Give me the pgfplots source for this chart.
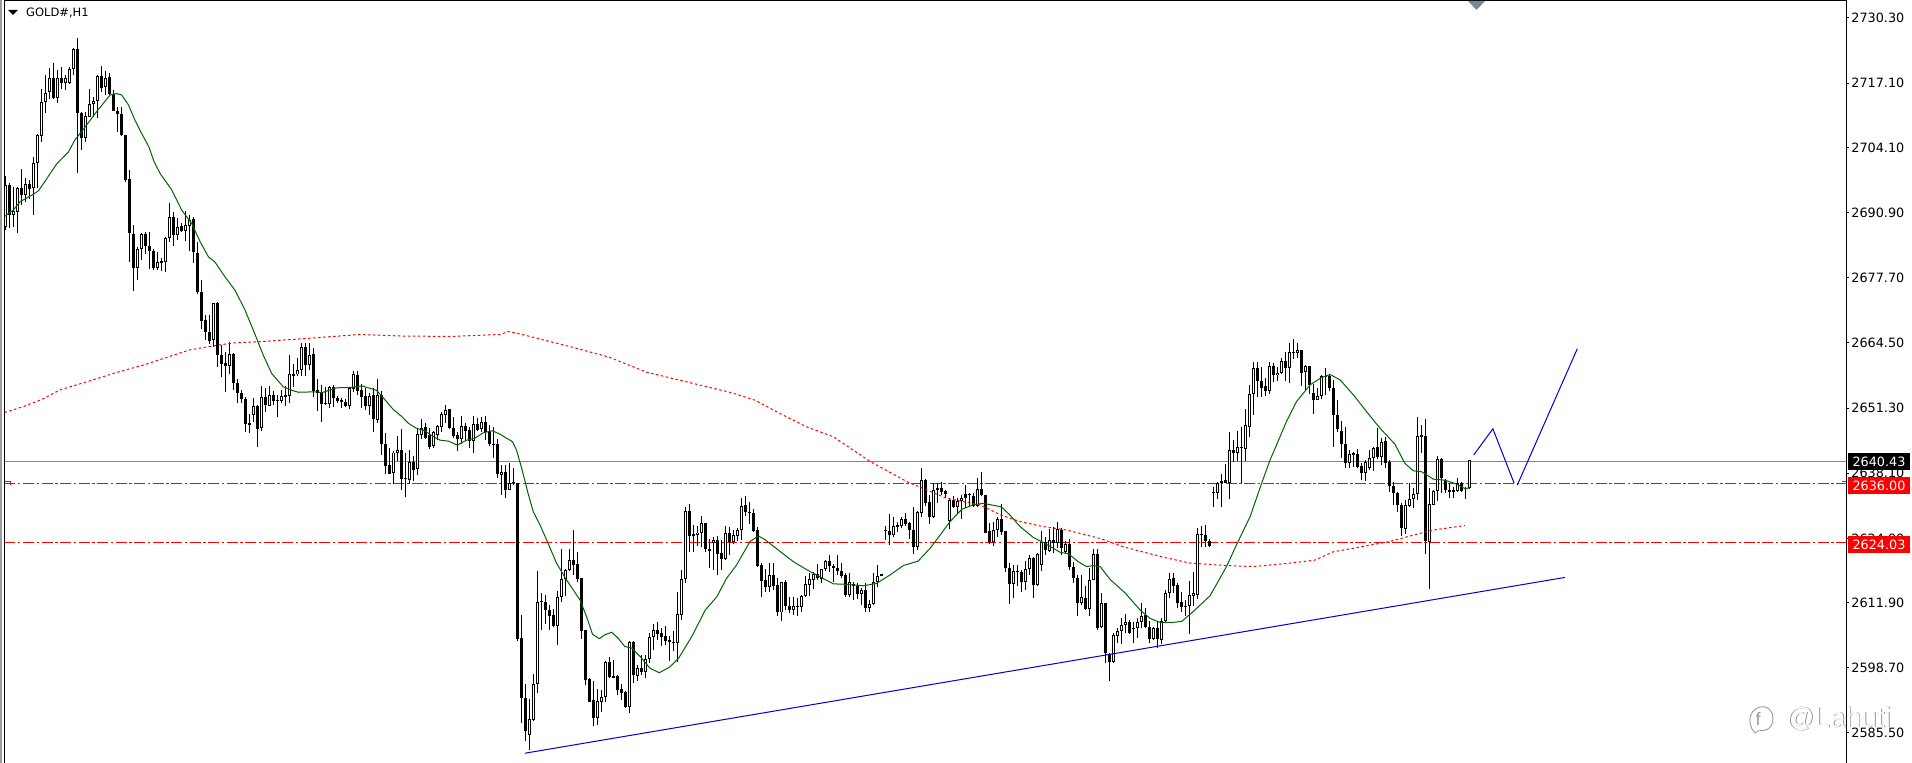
\documentclass[border=0pt]{standalone}
\usepackage{pgfplots}
\usepackage{pgfplotstable}
\usepackage{fontspec}
\setmainfont{DejaVu Sans}
\newfontfamily\wmfont{Liberation Sans}
\pgfplotsset{compat=1.18}
\definecolor{slategray}{RGB}{119,136,153}
\definecolor{magreen}{RGB}{0,100,0}
\definecolor{tlblue}{RGB}{0,0,205}
\pgfplotstableread{
i o h l c
0 2687.9 2698.2 2687.4 2696.5
1 2696.5 2696.8 2687.7 2690.4
2 2690.4 2696.1 2688.0 2691.3
3 2691.1 2696.1 2686.7 2695.9
4 2695.8 2699.8 2692.4 2694.4
5 2694.4 2697.8 2693.1 2696.6
6 2696.7 2697.5 2693.6 2695.7
7 2695.8 2702.2 2690.4 2701.0
8 2701.0 2706.9 2695.8 2706.6
9 2706.4 2716.0 2705.2 2713.2
10 2713.2 2718.7 2711.1 2715.2
11 2715.4 2720.1 2713.9 2718.1
12 2718.1 2721.1 2713.9 2714.1
13 2714.1 2719.8 2713.1 2718.1
14 2718.1 2720.4 2716.0 2717.2
15 2717.2 2718.7 2715.8 2718.1
16 2717.2 2720.4 2716.9 2719.9
17 2719.9 2724.3 2718.7 2724.1
18 2724.1 2726.3 2699.0 2711.0
19 2711.0 2711.3 2703.5 2705.9
20 2705.9 2711.3 2705.2 2710.4
21 2710.3 2716.0 2710.3 2712.8
22 2712.8 2714.2 2710.3 2713.4
23 2713.4 2718.7 2710.0 2718.5
24 2718.5 2720.6 2715.4 2716.2
25 2716.4 2719.6 2714.7 2718.1
26 2718.3 2719.1 2714.7 2714.9
27 2714.9 2715.8 2711.5 2711.5
28 2711.5 2712.3 2707.3 2710.8
29 2710.8 2712.3 2706.3 2706.6
30 2706.7 2706.7 2697.1 2697.5
31 2697.6 2699.6 2680.9 2686.7
32 2686.5 2688.4 2675.1 2679.7
33 2679.7 2683.9 2677.2 2683.6
34 2683.6 2686.8 2681.3 2686.5
35 2686.5 2687.0 2682.6 2684.2
36 2684.2 2687.0 2679.4 2683.1
37 2683.1 2683.6 2679.2 2679.6
38 2679.6 2682.9 2679.2 2680.8
39 2681.1 2681.6 2679.1 2680.6
40 2680.8 2685.9 2678.9 2685.7
41 2685.7 2692.8 2685.0 2689.9
42 2689.9 2691.1 2684.1 2686.3
43 2686.3 2689.7 2685.3 2688.0
44 2688.2 2688.7 2687.0 2687.2
45 2687.2 2691.3 2685.2 2688.3
46 2688.2 2690.4 2683.1 2689.4
47 2689.5 2690.0 2680.7 2682.9
48 2682.8 2685.0 2674.5 2674.9
49 2674.9 2677.2 2667.4 2669.0
50 2669.1 2670.2 2665.1 2666.8
51 2666.8 2670.2 2664.3 2664.8
52 2665.1 2672.6 2663.7 2672.5
53 2672.6 2672.8 2659.7 2662.0
54 2662.0 2664.1 2657.5 2660.2
55 2660.4 2662.7 2654.6 2659.9
56 2659.9 2664.6 2658.3 2662.2
57 2662.2 2662.4 2655.0 2656.3
58 2656.3 2657.1 2652.3 2654.3
59 2654.3 2655.0 2652.3 2653.1
60 2653.1 2653.6 2646.5 2648.0
61 2648.2 2650.1 2646.2 2647.9
62 2649.8 2653.3 2648.5 2651.7
63 2651.8 2651.9 2643.5 2647.1
64 2647.2 2655.8 2646.7 2653.5
65 2653.5 2655.3 2650.6 2651.9
66 2651.8 2655.8 2651.8 2653.9
67 2653.9 2654.8 2651.9 2652.8
68 2652.9 2653.9 2649.5 2652.7
69 2652.8 2655.0 2652.3 2653.7
70 2653.9 2655.8 2651.8 2653.6
71 2653.7 2662.0 2652.3 2658.2
72 2658.2 2660.2 2655.6 2657.8
73 2658.1 2661.4 2657.8 2659.0
74 2659.0 2664.4 2657.7 2663.6
75 2663.6 2664.4 2657.7 2660.0
76 2660.0 2664.4 2659.0 2662.0
77 2662.2 2663.4 2653.6 2654.8
78 2655.0 2657.1 2650.8 2654.4
79 2654.5 2656.0 2648.5 2652.1
80 2652.3 2655.5 2651.9 2652.1
81 2652.1 2655.8 2651.4 2655.5
82 2655.5 2656.0 2651.6 2653.3
83 2653.3 2653.7 2652.3 2652.8
84 2652.9 2653.3 2651.4 2652.5
85 2652.6 2653.1 2651.5 2651.7
86 2651.7 2655.5 2651.1 2655.3
87 2655.2 2658.8 2654.6 2658.1
88 2658.0 2658.8 2653.9 2654.8
89 2655.0 2656.2 2651.4 2653.6
90 2653.7 2655.3 2650.9 2651.8
91 2651.7 2654.3 2649.9 2653.7
92 2653.9 2655.3 2646.5 2649.1
93 2648.9 2657.2 2648.3 2653.9
94 2653.9 2654.8 2641.7 2644.1
95 2644.1 2646.2 2637.9 2639.6
96 2639.8 2643.3 2637.9 2638.0
97 2638.2 2642.7 2636.0 2642.3
98 2642.3 2645.6 2640.6 2642.9
99 2642.9 2647.0 2634.7 2636.9
100 2637.1 2642.3 2633.2 2636.9
101 2636.7 2642.9 2636.0 2640.4
102 2640.4 2641.6 2636.6 2638.8
103 2638.9 2647.0 2637.7 2646.0
104 2645.8 2649.0 2645.0 2647.2
105 2647.4 2648.2 2645.0 2645.2
106 2645.8 2647.2 2643.0 2643.5
107 2643.6 2646.7 2643.3 2646.5
108 2645.8 2647.9 2644.8 2647.7
109 2647.5 2650.6 2646.5 2650.1
110 2649.9 2651.9 2648.2 2651.0
111 2651.1 2651.1 2647.0 2647.3
112 2647.3 2649.5 2645.2 2645.6
113 2645.8 2646.5 2642.7 2645.0
114 2645.0 2649.7 2644.1 2647.7
115 2647.7 2648.2 2644.7 2646.6
116 2646.8 2647.4 2643.3 2644.7
117 2644.6 2649.7 2642.3 2648.0
118 2648.1 2649.2 2646.7 2646.8
119 2647.0 2649.4 2646.5 2648.5
120 2648.4 2649.7 2644.8 2646.5
121 2646.7 2647.9 2643.6 2644.0
122 2644.1 2647.5 2641.1 2643.8
123 2644.0 2645.0 2637.1 2637.9
124 2637.7 2639.8 2633.7 2638.4
125 2638.3 2639.8 2633.0 2634.7
126 2634.7 2640.1 2634.7 2636.1
127 2636.1 2639.1 2635.7 2636.4
128 2636.1 2636.1 2604.2 2604.5
129 2604.7 2609.4 2587.5 2592.5
130 2592.5 2595.5 2583.8 2585.8
131 2585.1 2592.4 2582.1 2588.3
132 2588.1 2597.4 2588.0 2595.4
133 2595.4 2618.3 2593.5 2612.0
134 2612.2 2613.9 2606.4 2612.0
135 2612.1 2613.4 2607.6 2610.4
136 2610.5 2611.5 2606.4 2609.2
137 2609.4 2610.7 2607.0 2607.2
138 2607.2 2614.2 2603.4 2613.0
139 2613.1 2622.8 2612.0 2616.6
140 2616.6 2618.8 2613.3 2618.6
141 2618.5 2622.8 2618.4 2620.5
142 2620.5 2626.6 2617.5 2619.5
143 2619.7 2622.1 2616.1 2616.7
144 2616.8 2616.8 2604.5 2606.2
145 2606.4 2606.4 2595.2 2596.2
146 2596.4 2596.7 2591.8 2591.8
147 2592.2 2596.0 2587.0 2588.6
148 2588.6 2594.5 2587.1 2591.9
149 2591.8 2594.3 2589.8 2592.7
150 2592.7 2600.1 2591.8 2599.9
151 2599.9 2600.9 2596.7 2596.9
152 2597.0 2600.3 2596.6 2596.7
153 2597.0 2597.2 2593.2 2594.2
154 2594.5 2595.5 2592.2 2593.5
155 2593.7 2593.9 2590.5 2590.8
156 2590.8 2604.2 2589.6 2604.0
157 2604.0 2604.2 2595.7 2597.2
158 2597.0 2599.3 2596.0 2598.6
159 2598.6 2601.3 2597.2 2597.9
160 2597.9 2601.3 2596.6 2600.4
161 2600.4 2605.7 2599.7 2604.9
162 2604.9 2607.6 2602.4 2606.4
163 2606.4 2608.0 2604.3 2605.5
164 2605.7 2606.8 2603.1 2605.0
165 2605.1 2607.2 2603.3 2604.2
166 2604.3 2605.1 2600.1 2603.9
167 2603.9 2606.2 2602.2 2603.7
168 2603.7 2614.1 2599.9 2609.5
169 2609.4 2618.5 2608.4 2616.6
170 2616.6 2631.2 2615.9 2630.4
171 2630.4 2631.9 2622.2 2625.3
172 2625.3 2627.6 2622.1 2625.7
173 2625.6 2627.4 2623.4 2626.1
174 2626.1 2629.5 2623.2 2628.0
175 2628.0 2628.1 2622.2 2622.8
176 2622.8 2624.7 2619.0 2622.4
177 2623.9 2625.1 2618.5 2624.5
178 2624.6 2625.3 2617.4 2621.7
179 2621.9 2624.6 2618.6 2620.7
180 2620.8 2627.5 2620.5 2625.9
181 2625.9 2627.3 2621.5 2624.1
182 2624.1 2626.6 2623.8 2625.6
183 2625.4 2627.1 2624.3 2626.7
184 2626.7 2633.1 2624.6 2631.5
185 2631.6 2633.5 2629.5 2630.3
186 2630.3 2632.3 2627.8 2630.0
187 2630.0 2630.8 2626.3 2626.5
188 2626.6 2627.3 2619.2 2619.4
189 2619.5 2620.0 2613.1 2616.3
190 2616.5 2618.8 2614.1 2615.1
191 2615.1 2620.0 2614.1 2617.5
192 2617.5 2620.0 2614.5 2615.3
193 2615.5 2616.8 2609.2 2609.9
194 2609.9 2616.1 2608.2 2616.0
195 2616.0 2616.5 2610.4 2611.2
196 2611.2 2613.0 2609.7 2610.5
197 2610.5 2613.0 2609.4 2611.2
198 2611.3 2612.8 2609.1 2611.1
199 2611.1 2613.5 2610.1 2613.2
200 2613.2 2617.2 2613.1 2615.6
201 2615.5 2617.8 2613.3 2616.6
202 2616.5 2618.0 2614.6 2617.7
203 2617.7 2619.8 2616.5 2616.8
204 2616.7 2618.8 2615.8 2618.8
205 2618.8 2620.5 2618.4 2620.3
206 2620.3 2621.5 2618.2 2619.4
207 2619.4 2619.8 2616.1 2619.0
208 2619.0 2621.5 2617.5 2618.3
209 2618.4 2620.0 2616.8 2617.3
210 2617.5 2617.8 2613.1 2613.4
211 2613.4 2617.8 2613.1 2616.1
212 2615.6 2616.1 2612.4 2615.3
213 2615.3 2615.8 2612.6 2613.6
214 2613.6 2614.9 2611.4 2614.5
215 2614.5 2615.8 2610.1 2610.8
216 2610.9 2612.4 2610.1 2611.7
217 2611.6 2617.8 2611.4 2616.1
218 2616.0 2619.5 2615.1 2617.2
219 2617.2 2617.6 2617.2 2617.6
220 2626.7 2627.4 2624.6 2626.4
221 2626.4 2629.9 2623.6 2625.5
222 2625.5 2629.2 2625.1 2627.5
223 2627.6 2628.3 2626.3 2627.3
224 2627.4 2629.2 2627.0 2628.8
225 2628.8 2630.0 2627.4 2627.8
226 2628.0 2628.3 2624.7 2626.6
227 2626.7 2631.2 2621.7 2623.2
228 2623.2 2630.5 2622.6 2630.2
229 2630.1 2639.1 2629.2 2636.7
230 2636.7 2636.9 2631.5 2632.1
231 2632.3 2633.7 2627.8 2629.3
232 2629.2 2636.1 2629.0 2634.8
233 2635.1 2636.1 2632.1 2634.8
234 2635.1 2636.3 2633.7 2634.4
235 2634.5 2634.8 2633.0 2633.8
236 2628.5 2633.0 2626.8 2632.7
237 2632.7 2633.4 2631.0 2631.3
238 2631.3 2633.0 2629.8 2632.5
239 2632.4 2633.7 2628.8 2633.1
240 2633.8 2635.7 2631.0 2633.0
241 2633.9 2634.0 2631.5 2633.6
242 2633.5 2634.0 2631.2 2631.5
243 2631.5 2637.1 2631.3 2634.9
244 2634.9 2638.4 2633.4 2633.6
245 2633.7 2633.7 2625.9 2626.1
246 2626.4 2628.0 2623.8 2624.1
247 2624.1 2628.2 2623.4 2626.7
248 2626.7 2629.2 2625.1 2628.8
249 2628.8 2631.9 2625.6 2626.3
250 2626.4 2626.4 2618.2 2618.9
251 2618.9 2619.9 2611.6 2615.7
252 2615.7 2619.5 2612.9 2618.3
253 2618.3 2619.5 2615.2 2618.1
254 2618.2 2618.5 2614.1 2616.0
255 2616.0 2620.4 2614.5 2618.7
256 2618.8 2621.6 2617.5 2620.9
257 2620.9 2621.2 2612.8 2615.5
258 2615.5 2622.0 2615.3 2621.8
259 2619.5 2626.4 2618.4 2624.1
260 2624.1 2625.1 2621.6 2622.6
261 2622.4 2626.8 2622.2 2624.6
262 2624.6 2627.3 2621.9 2623.9
263 2623.9 2628.3 2622.9 2626.8
264 2626.7 2627.0 2621.6 2622.9
265 2622.2 2624.3 2621.9 2623.7
266 2623.8 2624.7 2618.5 2619.2
267 2619.2 2620.2 2615.8 2616.8
268 2616.9 2617.5 2609.2 2611.9
269 2611.9 2617.5 2611.4 2613.0
270 2612.8 2615.2 2610.4 2610.6
271 2610.6 2618.9 2609.1 2616.5
272 2616.4 2622.7 2616.4 2621.7
273 2621.7 2622.7 2606.4 2606.7
274 2606.9 2613.8 2606.7 2611.8
275 2611.8 2611.9 2599.6 2601.6
276 2601.5 2601.6 2596.1 2599.8
277 2599.8 2605.7 2599.6 2605.4
278 2605.2 2606.7 2603.7 2606.2
279 2606.2 2608.7 2603.5 2607.3
280 2607.3 2609.5 2605.7 2607.9
281 2607.9 2608.4 2605.5 2605.7
282 2606.7 2607.9 2603.7 2606.5
283 2606.7 2608.7 2604.7 2607.9
284 2607.9 2611.8 2606.7 2609.2
285 2609.3 2610.8 2606.7 2606.9
286 2607.0 2608.1 2603.7 2604.6
287 2604.6 2607.0 2604.3 2606.7
288 2606.7 2608.1 2602.7 2604.5
289 2604.3 2608.7 2603.5 2608.1
290 2608.1 2614.5 2607.9 2613.8
291 2613.9 2617.8 2612.9 2616.6
292 2616.8 2617.8 2613.8 2615.3
293 2615.5 2615.8 2610.8 2611.9
294 2612.0 2614.1 2609.9 2611.1
295 2611.3 2612.4 2609.1 2611.1
296 2611.3 2616.3 2605.5 2613.5
297 2613.3 2618.0 2611.2 2613.8
298 2613.5 2627.0 2612.6 2625.7
299 2625.5 2627.5 2623.2 2625.7
300 2625.6 2627.6 2623.2 2624.3
301 2624.4 2624.7 2623.2 2623.4
302 2634.3 2635.4 2631.3 2634.0
303 2634.2 2636.4 2632.9 2636.2
304 2636.1 2638.0 2631.2 2636.5
305 2636.7 2640.0 2636.1 2636.1
306 2636.2 2646.5 2632.8 2642.8
307 2642.8 2644.8 2640.3 2642.2
308 2642.2 2646.7 2640.5 2643.4
309 2643.4 2647.5 2636.1 2643.2
310 2643.0 2651.1 2640.5 2647.8
311 2647.5 2656.0 2645.4 2654.1
312 2654.1 2660.7 2649.9 2659.4
313 2659.4 2660.7 2653.6 2656.7
314 2656.8 2659.7 2653.6 2655.4
315 2655.8 2657.3 2653.8 2654.8
316 2654.8 2660.7 2654.1 2659.8
317 2659.8 2660.4 2656.5 2658.0
318 2658.0 2659.7 2656.7 2658.5
319 2658.5 2661.4 2658.3 2660.8
320 2660.8 2662.7 2656.7 2659.5
321 2659.5 2664.4 2656.3 2662.7
322 2662.7 2665.2 2661.3 2662.4
323 2662.4 2664.4 2661.5 2663.1
324 2663.1 2663.1 2655.8 2658.5
325 2658.7 2660.0 2655.0 2659.8
326 2659.8 2659.8 2654.1 2656.0
327 2654.3 2656.1 2650.0 2652.9
328 2652.9 2655.3 2652.9 2653.8
329 2653.8 2658.0 2653.1 2657.7
330 2657.8 2659.4 2653.9 2657.5
331 2657.8 2658.3 2654.8 2655.4
332 2655.4 2657.0 2643.5 2649.8
333 2649.9 2652.9 2646.5 2647.0
334 2646.7 2648.6 2641.1 2644.0
335 2644.0 2647.5 2639.1 2640.1
336 2640.1 2642.8 2639.1 2642.0
337 2642.1 2642.5 2639.4 2641.8
338 2642.0 2643.0 2639.1 2639.4
339 2639.6 2640.1 2636.7 2638.2
340 2638.2 2640.8 2636.6 2640.3
341 2639.1 2642.8 2638.8 2641.1
342 2641.1 2643.5 2638.6 2643.2
343 2643.4 2647.2 2640.9 2641.3
344 2641.3 2645.2 2639.8 2644.5
345 2644.6 2645.5 2639.2 2640.2
346 2640.4 2640.8 2634.4 2635.6
347 2635.5 2636.4 2631.6 2634.0
348 2634.0 2634.4 2630.3 2631.7
349 2631.7 2632.0 2625.3 2627.0
350 2626.8 2632.7 2625.8 2631.6
351 2631.4 2636.1 2631.2 2632.8
352 2632.8 2635.1 2631.0 2633.9
353 2633.9 2649.4 2632.7 2645.7
354 2645.9 2647.9 2642.2 2645.5
355 2645.7 2649.0 2621.8 2624.3
356 2624.1 2635.1 2614.7 2631.9
357 2631.7 2634.7 2631.6 2634.5
358 2634.6 2641.5 2632.5 2640.9
359 2641.0 2641.2 2634.2 2637.1
360 2636.7 2636.9 2634.2 2634.7
361 2634.7 2636.2 2633.0 2634.4
362 2634.7 2635.4 2633.0 2634.4
363 2634.6 2637.1 2634.4 2636.1
364 2636.2 2636.4 2634.4 2634.6
365 2635.1 2635.3 2632.9 2634.9
366 2635.1 2640.8 2634.9 2640.7
}\candles
\begin{document}
\begin{tikzpicture}
\useasboundingbox (0pt,0pt) rectangle (1912pt,763pt);
\begin{axis}[
  at={(4.5pt,0pt)}, anchor=south west,
  scale only axis, width=1842.2pt, height=762pt,
  xmin=-0.2, xmax=460.35, ymin=2579.42, ymax=2733.74,
  axis x line*=top, axis y line*=right,
  axis line style={line width=1pt,-,black},
  xtick=\empty,
  ytick={2585.5,2598.7,2611.9,2624.9,2638.1,2651.3,2664.5,2677.7,2690.9,2704.1,2717.1,2730.3},
  yticklabels={2585.50,2598.70,2611.90,2624.90,2638.10,2651.30,2664.50,2677.70,2690.90,2704.10,2717.10,2730.30},
  tick align=outside, major tick length=2.5pt,
  every tick/.style={black,line width=1pt},
  yticklabel style={font=\fontsize{12.8}{14}\selectfont, anchor=west, xshift=1pt, inner sep=1pt},
]
% horizontal levels
\addplot[slategray, line width=1pt, forget plot] coordinates {(-0.2,2640.43) (460.35,2640.43)};
\addplot[red, line width=1pt, dash pattern=on 11pt off 2.5pt on 2.5pt off 2.5pt, forget plot] coordinates {(-0.2,2636.0) (460.35,2636.0)};
\addplot[red, line width=1pt, dash pattern=on 11pt off 2.5pt on 2.5pt off 2.5pt, forget plot] coordinates {(-0.2,2624.03) (460.35,2624.03)};
% wicks
\addplot[draw=none, mark=none, forget plot, error bars/.cd, y dir=plus, y explicit, error mark=none, error bar style={draw=black,solid,line width=1pt}]
  table[x=i, y=l, y error plus expr={\thisrow{h}-\thisrow{l}}] {\candles};
% bodies
\addplot[draw=none, mark=none, forget plot, error bars/.cd, y dir=plus, y explicit, error mark=none, error bar style={draw=black,solid,line width=3.4pt}]
  table[x=i, y expr={min(\thisrow{o},\thisrow{c})}, y error plus expr={abs(\thisrow{c}-\thisrow{o})}] {\candles};
% hollow interior of rising bodies
\addplot[draw=none, mark=none, forget plot, error bars/.cd, y dir=plus, y explicit, error mark=none, error bar style={draw=white,solid,line width=1.4pt}]
  table[x=i, y expr={\thisrow{o}+0.2}, y error plus expr={max(\thisrow{c}-\thisrow{o}-0.4,0)}] {\candles};
% moving average, green
\addplot[magreen, line width=1pt, forget plot] coordinates {
(-0.2,2690.1)(2,2691.4)(3.7,2693.1)(7,2694.6)(8.3,2695.3)(9.9,2697.2)(12.8,2700.7)(15.8,2703.2)(17.4,2705.6)(19.1,2707.3)
(22.8,2711.3)(26.2,2714.7)(27.8,2715.0)(29.1,2714.7)(30.8,2712.7)(32.4,2709.6)(34.1,2706.9)(35.9,2704.2)(37.2,2701.2)(38.7,2698.8)
(41.6,2695.5)(44.1,2691.4)(46.6,2688.7)(48.7,2685.0)(50.8,2681.9)(52.4,2680.9)(54.9,2677.9)(57.4,2675.2)(59.9,2671.2)(62,2667.1)
(64.5,2662.0)(66.6,2658.3)(69.5,2655.6)(72,2654.8)(73.3,2654.5)(77.8,2654.6)(79.1,2654.4)(82.8,2655.4)(87,2655.5)(89.1,2655.8)
(92.8,2654.9)(94.9,2653.0)(97,2651.0)(99.1,2649.6)(100.8,2648.2)(102.8,2647.2)(104.9,2646.7)(107,2645.5)(108.7,2644.8)(110.8,2644.6)
(113,2643.8)(115.3,2644.8)(117.4,2645.2)(119.5,2646.3)(121.8,2646.7)(123.7,2646.0)(125.3,2645.2)(126.8,2644.5)(127.8,2642.8)(129.1,2639.1)
(130.7,2634.0)(132,2630.3)(133.7,2627.6)(135.7,2623.9)(137.8,2619.9)(140.3,2616.5)(143.7,2612.4)(145.3,2609.1)(146.8,2605.5)(148.5,2604.6)
(149.9,2605.4)(151.6,2605.9)(153.2,2604.7)(154.9,2603.0)(156.6,2602.7)(158.7,2601.0)(161.2,2598.6)(163.5,2597.7)(166.2,2598.9)(168.3,2600.6)
(171.6,2605.0)(175,2610.4)(177.9,2613.1)(180.3,2616.8)(182.8,2619.5)(186.2,2624.3)(188.3,2625.4)(190,2624.6)(194.6,2621.7)(197,2620.2)
(200.3,2618.6)(202.8,2617.5)(207,2615.7)(210.3,2615.6)(214.5,2615.3)(217.8,2615.8)(221.2,2617.5)(224.5,2619.4)(228.2,2620.3)(231.2,2622.9)
(232.8,2624.6)(236.2,2628.3)(239.1,2630.8)(242,2631.7)(244.5,2632.0)(249,2631.3)(251.2,2629.6)(253.7,2627.3)(257,2625.1)(259.9,2623.9)
(263.7,2622.1)(265.8,2621.8)(268.2,2620.2)(270.3,2619.2)(272,2619.4)(273.7,2619.2)(276.2,2616.6)(279.9,2613.9)(283.7,2610.4)(286.2,2608.7)
(288.7,2607.9)(292,2607.9)(294.1,2608.1)(297,2610.1)(301.2,2613.3)(305.3,2619.2)(307.8,2623.6)(311.2,2629.3)(314.1,2636.1)(316.2,2640.8)
(317.8,2643.8)(320.3,2648.6)(322.8,2652.6)(326.2,2656.0)(329.1,2657.5)(331.2,2658.1)(333.7,2657.0)(337,2654.0)(340.3,2650.6)(343.7,2647.2)
(347.4,2644.0)(349.9,2640.1)(352,2638.6)(354.1,2638.4)(357,2636.9)(359.9,2636.7)(362.8,2635.9)(364.9,2635.0)(366,2635.1)};
% moving average, red dotted
\addplot[red, line width=1pt, dash pattern=on 2.5pt off 2.5pt, forget plot] coordinates {
(-0.2,2650.4)(4.5,2651.6)(9.3,2653.1)(13.7,2655.0)(20.3,2656.6)(27.8,2658.5)(34.5,2660.0)(42,2662.0)(46.2,2663.1)(52,2663.9)
(57,2664.5)(62.8,2664.7)(75.3,2665.4)(88.7,2666.2)(98.7,2665.9)(111.2,2665.8)(123.7,2666.2)(125.8,2666.8)(129.7,2666.1)(141.9,2663.6)
(151,2661.6)(160.2,2658.6)(172.4,2656.2)(181.6,2654.4)(187.4,2652.9)(193.7,2650.2)(200.3,2647.5)(207,2645.5)(211.2,2643.2)(216.2,2640.5)
(225.4,2636.4)(235.4,2633.0)(243.7,2631.7)(249,2629.6)(253.7,2628.3)(259.5,2627.3)(265.3,2626.6)(273.7,2624.9)(279.5,2623.2)(289.5,2621.1)
(296.2,2619.9)(305.3,2619.4)(312,2619.2)(321.2,2619.9)(327.4,2620.5)(332,2622.2)(337,2622.9)(346.2,2624.3)(351.2,2625.4)(357,2626.6)(364.9,2627.5)};
% drawn lines, blue
\addplot[tlblue, line width=1pt, forget plot] coordinates {(129.9,2581.4) (389.9,2617.0)};
\addplot[tlblue, line width=1pt, forget plot] coordinates {(367.1,2641.8) (371.9,2647.1) (377.2,2636.1)};
\addplot[tlblue, line width=1pt, forget plot] coordinates {(378,2635.7) (393,2663.3)};
\end{axis}
% window frame
\fill[black!38] (0pt,0pt) rectangle (2pt,763pt);
\draw[black,line width=1pt] (4.5pt,0pt) -- (4.5pt,763pt);
% symbol
\fill[black] (8pt,753pt) -- (18pt,753pt) -- (13pt,748pt) -- cycle;
\node[anchor=west,inner sep=0pt,font=\fontsize{11.5}{14}\selectfont] at (26pt,750pt) {GOLD\#,H1};
% shift marker
\fill[slategray] (1468pt,762pt) -- (1485pt,762pt) -- (1476.5pt,753pt) -- cycle;
% level flags
\draw[red,line width=1pt] (5.5pt,281pt) -- (5.5pt,281.5pt) -- (10pt,281.5pt) -- (10pt,277.5pt);
\draw[red,line width=1pt] (1842pt,281pt) -- (1842pt,281.5pt) -- (1846pt,281.5pt);
% price boxes
\node[fill=black,text=white,inner sep=0pt,minimum width=62pt,minimum height=16.7pt,font=\fontsize{12.8}{14}\selectfont] at (1879pt,301.3pt) {2640.43};
\node[fill=red,text=white,inner sep=0pt,minimum width=62pt,minimum height=16.7pt,font=\fontsize{12.8}{14}\selectfont] at (1879pt,277.3pt) {2636.00};
\node[fill=red,text=white,inner sep=0pt,minimum width=62pt,minimum height=16.7pt,font=\fontsize{12.8}{14}\selectfont] at (1879pt,218.6pt) {2624.03};
% watermark
\node[anchor=west,inner sep=0pt,font=\wmfont\fontsize{28}{30}\selectfont,text=black!55] at (1786.7pt,43.3pt) {@Lahuti};
\node[anchor=west,inner sep=0pt,font=\wmfont\fontsize{28}{30}\selectfont,text=white] at (1786pt,44pt) {@Lahuti};
\draw[black!40,line width=0.9pt] (1755pt,30pt) .. controls (1745pt,40pt) and (1750pt,58pt) .. (1765pt,56pt) .. controls (1775pt,54pt) and (1775pt,38pt) .. (1768pt,34pt) .. controls (1763pt,31pt) and (1758pt,34pt) .. (1755pt,30pt);
\node[inner sep=0pt,font=\wmfont\fontsize{18}{20}\selectfont,text=black!40] at (1758pt,44pt) {f};
\end{tikzpicture}
\end{document}
